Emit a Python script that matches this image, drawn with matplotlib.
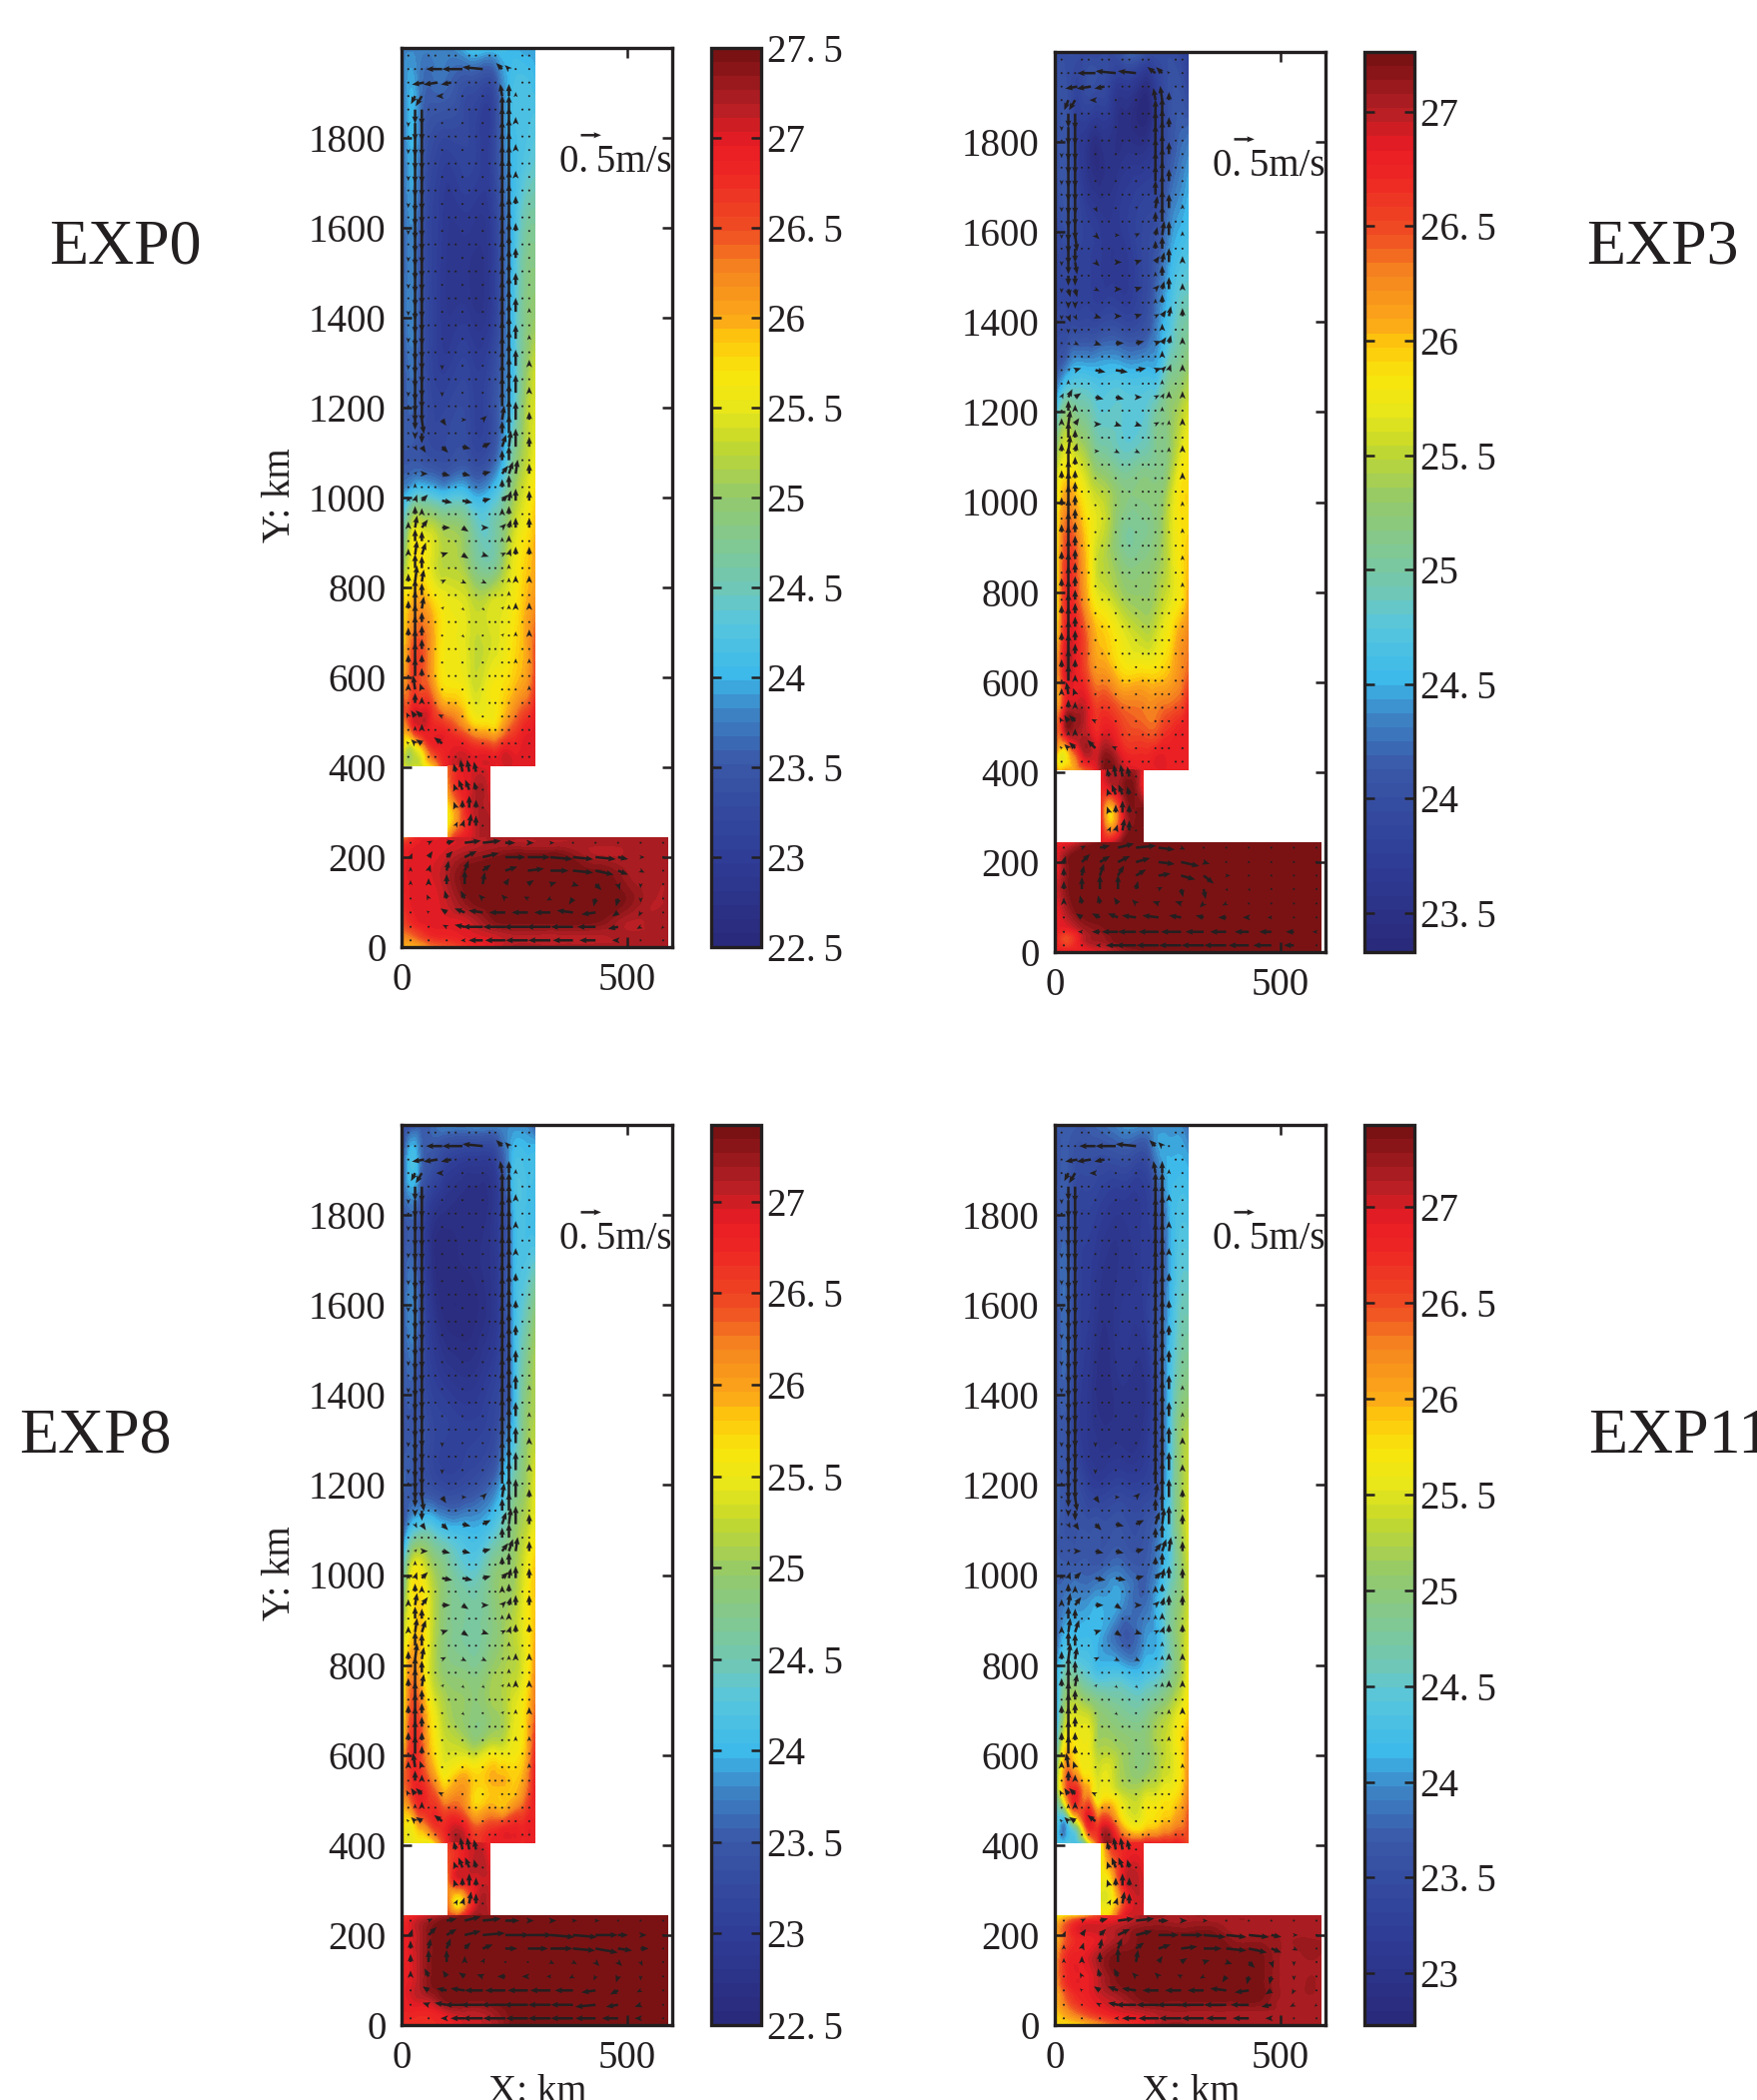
import numpy as np
import matplotlib
matplotlib.use('Agg')
import matplotlib.pyplot as plt
import matplotlib.tri as mtri
from matplotlib.colors import LinearSegmentedColormap

plt.rcParams['font.family'] = ['Liberation Serif', 'DejaVu Serif']
INK = '#231f20'
W, H = 1759, 2102

# temperature grids, deg C * 10, rows bottom to top
X_UP = [5, 25, 45, 70, 100, 150, 200, 225, 250, 275, 296]
Y_UP = [404, 440, 480, 540, 620, 700, 780, 860, 940, 1020, 1100, 1200, 1300, 1400, 1600, 1800, 1950, 2000]
X_ST = [103, 125, 150, 175, 195]
Y_ST = [243, 280, 320, 360, 404]
X_LO = [5, 30, 60, 100, 150, 200, 250, 300, 350, 400, 450, 500, 550, 590]
Y_LO = [3, 30, 60, 100, 150, 200, 230, 243]

T_UP_A = [[254,253,254,259,269,270,270,270,270,270,270],[255,253,258,267,269,269,267,269,269,270,270],
[260,265,269,269,268,262,259,262,266,269,270],[265,268,268,265,260,256,256,258,261,264,268],
[259,266,265,260,256,254,255,256,258,260,265],[258,263,264,260,256,254,254,255,257,260,264],
[257,259,260,257,255,253,253,254,256,259,261],[250,256,257,254,252,249,246,250,255,258,260],
[245,253,253,252,250,247,245,248,253,256,259],[238,240,241,240,239,239,240,244,250,254,257],
[235,235,234,233,233,233,234,239,247,252,255],[235,236,234,232,232,232,233,237,243,251,254],
[235,237,234,231,230,231,232,236,242,249,253],[236,238,234,231,229,229,230,235,242,248,250],
[236,238,234,231,229,229,230,235,241,246,247],[237,240,236,233,232,232,231,237,241,242,243],
[238,239,237,237,237,236,235,239,241,241,240],[238,238,238,238,238,241,241,241,240,239,239]]
T_ST_A = [[261,268,270,272,272],[256,262,269,272,272],[258,264,270,272,271],[262,268,270,272,270],[264,268,270,270,270]]
T_LO_A = [[260,260,263,265,268,270,272,272,272,272,272,272,272,272],[263,265,268,269,270,271,272,272,272,272,272,272,272,272],
[266,269,270,270,271,274,275,275,275,275,274,272,272,272],[268,270,270,271,274,275,275,275,275,275,275,274,272,272],
[269,270,270,272,275,275,275,275,275,275,275,273,272,272],[269,270,270,271,273,274,275,275,275,273,272,272,272,272],
[267,269,270,270,271,272,272,272,272,272,272,272,272,272],[262,268,269,270,271,272,272,272,272,272,272,272,272,272]]

T_UP_B = [[261,261,261,264,270,270,268,268,268,268,268],[260,258,264,270,270,268,267,268,268,268,268],
[264,268,270,270,268,266,265,265,267,268,268],[262,269,270,269,266,264,263,263,264,265,268],
[262,269,268,265,262,259,259,259,260,262,264],[259,268,268,264,260,257,255,256,258,261,263],
[258,267,266,261,257,254,253,254,256,258,261],[258,266,265,260,255,252,252,253,255,258,260],
[258,264,263,259,256,251,251,252,255,258,259],[257,261,260,257,255,252,252,252,254,258,259],
[254,257,256,254,251,249,250,251,252,256,258],[247,252,251,250,248,248,248,250,252,254,256],
[241,243,245,245,245,245,245,245,249,251,253],[239,239,239,239,239,239,240,243,246,249,250],
[239,240,239,238,237,237,239,240,243,245,246],[240,241,238,236,235,235,235,237,240,242,243],
[240,240,239,240,240,238,236,238,240,240,238],[240,240,240,239,239,241,241,240,240,239,238]]
T_ST_B = [[268,269,272,273,273],[267,261,268,272,272],[266,260,268,272,272],[267,268,271,272,268],[268,270,270,271,268]]
T_LO_B = [[268,268,268,269,271,272,273,273,273,273,273,273,273,273],[267,265,269,271,273,273,273,273,273,273,273,273,273,273],
[268,269,271,272,273,273,273,273,273,273,273,273,273,273],[268,271,273,273,273,273,273,273,273,273,273,273,273,273],
[269,272,273,273,273,273,273,273,273,273,273,273,273,273],[268,272,273,273,273,273,273,273,273,273,273,273,273,273],
[268,270,272,273,273,273,273,273,273,273,273,273,273,273],[268,268,270,272,272,273,273,273,273,273,273,273,273,273]]

T_UP_C = [[255,255,255,256,267,268,268,268,268,268,268],[256,256,260,265,268,266,266,267,268,268,268],
[258,262,267,267,264,260,260,259,262,265,268],[263,267,267,262,257,259,259,259,258,261,268],
[258,267,264,257,253,251,253,253,255,258,266],[256,265,262,255,251,249,250,251,254,257,263],
[255,262,258,252,249,248,250,251,252,255,261],[253,258,258,252,248,246,248,250,252,255,259],
[249,256,257,252,248,246,248,250,251,255,258],[244,254,254,250,247,243,247,249,250,254,258],
[236,242,244,243,241,240,242,245,249,252,255],[236,235,234,233,232,233,236,240,246,250,254],
[234,235,234,232,231,231,232,236,242,249,252],[235,235,233,231,230,229,231,233,240,248,251],
[235,238,233,228,226,226,228,232,240,244,248],[235,236,232,228,227,227,228,232,240,241,240],
[235,240,236,235,233,232,232,236,240,240,240],[234,234,235,236,238,238,238,238,238,238,235]]
T_ST_C = [[265,264,270,272,271],[262,256,264,271,270],[262,268,269,270,270],[264,268,270,271,269],[266,268,270,270,268]]
T_LO_C = [[267,267,267,268,270,271,274,274,274,274,274,274,274,274],[268,268,268,270,271,272,274,274,274,274,274,274,274,274],
[268,270,271,274,274,274,274,274,274,274,274,274,274,274],[268,270,273,274,274,274,274,274,274,274,274,274,274,274],
[268,270,273,274,274,274,274,274,274,274,274,274,274,274],[268,270,273,274,274,274,274,274,274,274,274,274,274,274],
[267,270,272,274,274,274,274,274,274,274,274,274,274,274],[266,268,270,272,274,274,274,274,274,274,274,274,274,274]]

T_UP_D = [[243,243,243,250,268,268,268,268,268,268,265],[243,240,248,265,268,260,258,259,261,263,265],
[245,253,265,267,260,256,256,257,258,260,264],[252,264,265,259,255,252,252,253,255,257,262],
[245,258,257,256,252,251,250,252,254,257,261],[241,252,254,253,250,248,248,250,252,255,258],
[241,247,247,245,243,243,243,244,247,251,256],[238,242,242,242,241,237,240,241,246,251,255],
[238,239,240,240,241,240,238,241,246,250,254],[237,237,237,237,237,238,237,239,243,249,254],
[237,236,236,236,236,236,236,238,243,250,255],[237,236,235,233,232,233,233,235,242,250,254],
[236,236,233,231,230,230,231,234,241,250,253],[236,237,233,231,229,230,230,234,241,248,250],
[236,238,234,232,230,231,232,235,240,245,246],[236,237,234,233,232,231,232,234,240,243,243],
[236,237,236,236,236,237,236,240,241,241,240],[237,237,237,237,238,240,240,240,240,240,238]]
T_ST_D = [[258,259,268,270,270],[255,256,264,270,270],[256,258,268,271,270],[256,262,268,270,269],[256,267,268,268,268]]
T_LO_D = [[258,258,259,262,266,269,272,272,272,272,272,272,272,272],[259,262,265,268,270,271,272,272,272,272,272,272,272,272],
[260,265,268,270,272,274,274,274,274,274,274,272,272,272],[262,268,269,271,274,274,274,274,274,274,274,272,272,272],
[262,268,269,272,274,274,274,274,274,274,274,272,272,272],[260,266,269,270,272,274,274,274,274,272,272,272,272,272],
[259,264,268,269,270,272,272,272,272,272,272,272,272,272],[257,258,260,266,268,272,272,272,272,272,272,272,272,272]]

# velocity, units of 0.05 m/s, rows top to bottom
QX_UP = [15, 30, 45, 90, 135, 180, 223, 238, 253, 283]
QY_UP = [1953,1893,1833,1773,1713,1653,1593,1533,1473,1413,1353,1293,1233,1173,1113,1053,993,933,873,813,753,693,633,573,513,453]
ZR = [0]*10
U_UP_ACD = [[0,0,-1,-8,-10,-10,-3,-2,0,0],[0,-2,-3,-3,-1,-1,-1,0,0,0],ZR,ZR,ZR,ZR,ZR,ZR,ZR,ZR,ZR,ZR,ZR,
[0,0,1,2,2,2,1,0,0,0],[0,1,2,3,4,4,2,1,0,0],[0,1,3,4,4,4,3,2,1,0],[0,1,3,5,5,4,3,1,0,0],[0,1,3,4,3,3,2,1,0,0],
[0,1,2,3,3,3,2,1,0,0],[0,1,1,2,2,2,1,0,0,0],[0,0,1,1,1,1,1,0,0,0],[0,0,0,1,1,1,1,0,0,0],[0,0,0,0,1,1,0,0,0,0],
[0,-1,-1,0,0,0,0,0,0,0],[-1,-2,-3,-2,0,0,0,0,0,0],[-1,-2,-3,-4,-1,0,0,0,0,0]]
V_UP_ACD = [[0,0,0,0,0,1,3,2,0,0],[-1,-4,-5,0,0,0,6,6,2,1],[-2,-9,-9,-1,0,0,8,8,3,1],[-2,-10,-10,-1,0,1,9,9,3,1],
[-2,-10,-10,-1,0,1,9,9,3,1],[-2,-11,-10,-1,0,1,9,10,4,1],[-2,-11,-10,-1,0,1,9,10,4,1],[-2,-11,-10,-1,0,1,9,11,5,1],
[-2,-11,-10,-1,0,1,9,11,6,1],[-2,-11,-10,-1,0,1,9,11,7,2],[-2,-11,-10,-1,0,1,9,11,7,2],[-2,-11,-9,-2,0,1,8,11,8,3],
[-2,-10,-8,-2,0,1,8,11,9,3],[-1,-5,-7,-3,0,2,7,10,9,4],[0,-2,-3,-3,-1,2,6,8,9,5],[1,1,0,-1,-1,1,4,6,7,5],
[2,3,3,-1,-1,1,3,5,6,5],[3,6,4,0,-2,0,2,4,5,5],[3,7,6,1,-2,-1,1,3,4,4],[4,8,6,1,-1,-1,1,2,3,3],[4,9,6,1,-1,-1,1,2,3,3],
[4,10,5,0,-1,0,1,1,2,3],[4,10,4,0,0,0,0,1,2,2],[3,7,3,0,0,0,0,0,1,2],[2,3,3,1,0,0,0,0,0,1],[1,2,2,3,0,0,0,0,0,0]]
U_UP_B = [[0,0,-1,-9,-10,-9,-4,-3,-1,0],[0,-2,-3,-3,-1,-1,-1,-1,0,0],ZR,ZR,ZR,[0,0,0,1,1,1,1,0,0,0],[0,0,1,2,2,2,1,1,0,0],
[0,0,1,2,3,3,2,1,0,0],[0,1,1,2,3,3,2,1,0,0],[0,1,1,3,3,3,2,2,1,0],[0,1,2,3,4,4,3,2,1,0],[0,1,3,5,6,5,3,2,1,0],
[1,2,3,4,4,3,2,1,0,0],[0,1,2,3,3,3,2,1,0,0],[0,1,1,2,2,2,1,0,0,0],ZR,ZR,ZR,ZR,ZR,ZR,ZR,ZR,
[0,-1,-1,0,0,0,0,0,0,0],[-1,-2,-3,-2,0,0,0,0,0,0],[-1,-2,-3,-4,-2,0,0,0,0,0]]
V_UP_B = [[0,0,0,0,1,1,3,3,1,0],[-1,-5,-5,0,0,0,6,7,4,1],[-2,-9,-9,-1,0,1,8,9,5,1],[-2,-10,-10,-1,0,1,8,10,6,1],
[-2,-10,-10,-1,0,1,8,10,6,1],[-2,-10,-9,-2,0,1,6,9,7,2],[-2,-9,-8,-2,0,1,4,7,7,2],[-2,-6,-6,-2,0,1,3,5,7,3],
[-2,-4,-4,-1,0,1,2,4,6,3],[-2,-3,-2,-1,0,1,1,3,5,4],[-1,-1,-1,-1,0,1,1,3,4,3],[0,1,1,-1,-1,1,1,2,3,3],
[2,4,2,-1,-1,0,1,2,3,3],[3,7,3,0,-1,-1,1,1,2,3],[4,8,4,0,-1,-1,0,1,2,3],[4,9,4,1,0,-1,0,1,1,3],[4,10,5,1,0,0,0,1,1,2],
[4,10,5,1,0,0,0,1,1,2],[4,10,5,1,0,0,0,1,1,2],[4,10,5,1,0,0,0,1,1,2],[4,10,5,0,0,0,0,0,1,1],[4,10,5,0,0,0,0,0,1,1],
[4,9,4,0,0,0,0,0,0,1],[3,6,3,0,0,0,0,0,0,0],[2,3,3,1,0,0,0,0,0,0],[1,2,3,4,1,0,0,0,0,0]]

# in-between rows of the boundary jets (northward speed only)
QX_JET = [30, 45, 223, 238]
QY_JET = [1863,1803,1743,1683,1623,1563,1503,1443,1383,1323,1263,1203,1143,1083,1023,963,903,843,783,723,663,603,543,483]
V_JET_ACD = [[-7,-8,7,7],[-10,-10,8,9],[-10,-10,9,9],[-11,-10,9,10],[-11,-10,9,10],[-11,-10,9,11],[-11,-10,9,11],[-11,-10,9,11],
[-11,-10,9,11],[-11,-9,8,11],[-11,-9,8,11],[-8,-8,8,11],[-3,-5,6,9],[-1,-1,5,7],[2,1,4,6],[4,3,3,4],[6,5,2,3],[7,6,1,2],
[8,6,1,2],[9,5,1,1],[10,5,0,1],[9,4,0,1],[5,3,0,0],[2,3,0,0]]
V_JET_B = [[-7,-8,7,8],[-10,-10,8,10],[-10,-10,8,10],[-10,-10,7,10],[-10,-9,5,8],[-8,-7,4,6],[-5,-5,2,5],[-3,-3,2,4],[-2,-2,1,3],
[0,0,1,3],[2,1,1,2],[5,3,1,2],[8,4,0,1],[9,4,0,1],[10,5,0,1],[10,5,0,1],[10,5,0,1],[10,5,0,1],[10,5,0,1],[10,5,0,1],
[10,5,0,0],[8,3,0,0],[4,3,0,0],[2,3,0,0]]
# second westward streak under the top of the gyre
QX_TOP = [50, 80, 110]
QY_TOP = [1923]
U_TOP = [[-6,-7,-5]]
V_TOP = [[-1,-1,-1]]

QX_ST = [120, 135, 150, 165, 180]
QY_ST = [390, 350, 310, 270]
U_ST = [[-1,-1,-1,-1,0],[-1,-2,-2,-1,0],[-1,0,0,0,0],[1,1,1,0,0]]
V_ST = [[4,6,6,5,1],[3,5,5,4,1],[3,4,6,4,1],[2,3,6,5,1]]

QX_LO = [20, 60, 100, 140, 180, 230, 280, 330, 380, 430, 480, 530, 580]
QY_LO = [232, 200, 170, 140, 108, 77, 45, 15]
ZL = [0]*13
U_LO_AD = [[1,2,4,8,9,5,3,2,1,1,0,0,0],[1,2,3,6,8,10,11,11,10,10,5,2,1],[0,1,1,2,4,6,8,9,10,9,5,2,0],[0,0,0,0,1,2,3,3,3,3,1,0,0],
[0,-1,-1,-2,-2,-2,-2,-2,-2,-1,-1,0,0],[0,-1,-3,-5,-7,-8,-8,-8,-8,-7,-3,-1,0],[0,-1,-2,-5,-10,-11,-12,-12,-11,-9,-5,-2,-1],[0,0,-1,-2,-7,-10,-11,-11,-10,-8,-3,-1,0]]
V_LO_AD = [[0,1,1,1,1,0,0,0,0,0,0,0,0],[2,3,3,3,2,0,0,-1,-1,-1,-1,0,0],[2,3,5,5,3,2,1,0,-1,-2,-2,-1,-1],[2,3,5,7,6,3,2,1,-1,-3,-3,-2,-1],
[1,2,4,4,2,2,1,-1,-3,-4,-4,-2,-1],[0,1,2,2,1,0,0,0,1,-1,-2,-2,-1],[0,0,1,1,0,0,0,0,0,0,-1,-1,-1],ZL]
U_LO_B = [[1,2,5,8,10,8,2,1,0,0,0,0,0],[1,4,5,6,7,8,9,3,1,1,0,0,0],[0,1,2,3,5,6,7,5,2,1,1,0,0],[0,0,0,0,1,2,1,1,1,1,1,1,0],
[0,-1,-1,-2,-2,-3,-3,-2,-2,-1,0,0,0],[0,-3,-4,-5,-7,-8,-6,-4,-4,-3,-2,-1,-1],[0,-2,-4,-8,-9,-10,-10,-9,-8,-7,-6,-4,-2],[0,0,-2,-6,-10,-11,-11,-11,-11,-10,-9,-5,-1]]
V_LO_B = [[0,1,1,2,1,-1,-1,0,0,0,0,0,0],[3,4,3,3,2,-1,-2,-1,0,0,0,0,0],[4,5,6,5,3,1,-2,-4,0,0,0,0,0],[4,6,7,7,4,1,-4,-5,-1,-1,0,0,0],
[3,4,4,3,2,1,1,-2,-1,0,0,0,0],[1,2,2,2,1,1,1,1,0,0,0,0,0],ZL,ZL]
U_LO_C = [[1,2,5,8,9,7,3,3,2,2,1,1,0],[1,4,5,8,11,12,12,12,12,11,5,3,1],[0,1,2,3,5,6,10,11,11,11,7,4,1],[0,0,0,0,1,1,1,2,2,2,2,1,0],
[0,-2,-2,-3,-3,-4,-3,-2,-2,-1,-1,0,0],[0,-3,-5,-7,-9,-10,-10,-10,-9,-7,-4,-2,0],[0,-3,-6,-10,-11,-12,-12,-11,-11,-10,-6,-3,-1],[0,-1,-3,-7,-10,-11,-11,-11,-11,-10,-8,-3,0]]
V_LO_C = [[0,1,1,2,1,0,0,0,0,0,0,0,0],[3,4,3,2,1,0,0,-1,-1,0,0,0,0],[4,5,5,3,2,0,0,0,-1,-2,-1,0,0],[4,6,6,3,2,0,0,-1,-1,-2,-2,-2,-1],
[3,4,3,2,1,0,0,0,-1,-2,-3,-2,-1],[1,2,1,1,0,0,0,0,0,-1,-2,-1,-1],[0,1,1,0,0,0,0,0,0,-1,-1,-1,0],ZL]

# calm cells between the jets, drawn as dots
QX_CALM = [15, 60, 75, 105, 120, 150, 165, 195, 208, 268, 283]
QY_CALM = [1983,1923,1863,1803,1743,1683,1623,1563,1503,1443,1383,1323,1263,1203,1143,1083,1023,963,903,843,783,723,663,603,543,483,423]

# colour range and colorbar ticks of each panel
VMIN = [22.5, 23.33, 22.5, 22.73]
VMAX = [27.5, 27.26, 27.42, 27.43]
CB_TICKS = [[22.5,23,23.5,24,24.5,25,25.5,26,26.5,27,27.5],
            [23.5,24,24.5,25,25.5,26,26.5,27],
            [22.5,23,23.5,24,24.5,25,25.5,26,26.5,27],
            [23,23.5,24,24.5,25,25.5,26,26.5,27]]
NAMES = ['EXP0', 'EXP3', 'EXP8', 'EXP11']
Y_TICKS = [0,200,400,600,800,1000,1200,1400,1600,1800]

# pixel boxes: left, right, top, bottom
BOXES = [(402,673,48,948), (1056,1327,52,953), (402,673,1126,2027), (1056,1327,1126,2027)]
CB_X = [(712,762), (1366,1416), (712,762), (1366,1416)]
NAME_POS = [(125,248,'center'), (1664,248,'center'), (95,1439,'center'), (1590,1439,'left')]

stops = [(0.00,'#2a2a7c'),(0.10,'#2f3e98'),(0.20,'#3a57a7'),(0.26,'#3d86c6'),(0.30,'#3cb9ea'),(0.36,'#58c6dc'),
         (0.40,'#70c7b4'),(0.50,'#93c96c'),(0.56,'#c3d82e'),(0.60,'#e8e61a'),(0.64,'#f9e50c'),(0.68,'#fdc60d'),
         (0.70,'#fbaa18'),(0.76,'#f58220'),(0.80,'#ef4f23'),(0.86,'#ee2a24'),(0.90,'#e81c24'),(0.94,'#b51f24'),(1.00,'#7a1214')]
cmap = LinearSegmentedColormap.from_list('cmyk_jet', stops, N=64)


def fill_region(ax, xs, ys, temp, levels, vmin, vmax):
    xx, yy = np.meshgrid(xs, ys)
    tri = mtri.Triangulation(xx.ravel(), yy.ravel())
    zz = np.array(temp, dtype=float).ravel() / 10
    tri2, z2 = mtri.UniformTriRefiner(tri).refine_field(zz, subdiv=3)
    return ax.tricontourf(tri2, np.clip(z2, vmin + 1e-3, vmax - 1e-3), levels=levels, cmap=cmap)


def draw_arrows(ax, xs, ys, u, v):
    xx, yy = np.meshgrid(xs, ys)
    return ax.quiver(xx, yy, u, v, angles='xy', scale_units='xy', scale=10/45, units='dots', width=2.5,
                     headwidth=2.4, headlength=3.0, headaxislength=2.7, minshaft=0.8, minlength=0.9, color=INK, zorder=3)


fig = plt.figure(figsize=(W/100, H/100), dpi=100)

T_UP = [T_UP_A, T_UP_B, T_UP_C, T_UP_D]
T_ST = [T_ST_A, T_ST_B, T_ST_C, T_ST_D]
T_LO = [T_LO_A, T_LO_B, T_LO_C, T_LO_D]
VEL_UP = [(U_UP_ACD, V_UP_ACD), (U_UP_B, V_UP_B), (U_UP_ACD, V_UP_ACD), (U_UP_ACD, V_UP_ACD)]
VEL_LO = [(U_LO_AD, V_LO_AD), (U_LO_B, V_LO_B), (U_LO_C, V_LO_C), (U_LO_AD, V_LO_AD)]
V_JET = [V_JET_ACD, V_JET_B, V_JET_ACD, V_JET_ACD]
U_JET = np.zeros((len(QY_JET), len(QX_JET)))
CALM = np.zeros((len(QY_CALM), len(QX_CALM)))

for i in range(4):
    l, r, t, b = BOXES[i]
    ax = fig.add_axes([l/W, 1-b/H, (r-l)/W, (b-t)/H])
    levels = np.linspace(VMIN[i], VMAX[i], 65)
    cf = fill_region(ax, X_UP, Y_UP, T_UP[i], levels, VMIN[i], VMAX[i])
    fill_region(ax, X_ST, Y_ST, T_ST[i], levels, VMIN[i], VMAX[i])
    fill_region(ax, X_LO, Y_LO, T_LO[i], levels, VMIN[i], VMAX[i])

    q = draw_arrows(ax, QX_UP, QY_UP, *VEL_UP[i])
    draw_arrows(ax, QX_JET, QY_JET, U_JET, V_JET[i])
    draw_arrows(ax, QX_TOP, QY_TOP, U_TOP, V_TOP)
    draw_arrows(ax, QX_CALM, QY_CALM, CALM, CALM)
    draw_arrows(ax, QX_ST, QY_ST, U_ST, V_ST)
    draw_arrows(ax, QX_LO, QY_LO, *VEL_LO[i])
    ax.quiverkey(q, 0.70, 0.903, 10, ' ', coordinates='axes', labelpos='N')
    ax.text(0.584, 0.873, '0.\u20095m/s', transform=ax.transAxes, fontsize=28, color=INK, va='center', ha='left')

    ax.set_xlim(0, 600)
    ax.set_ylim(0, 2000)
    ax.set_xticks([0, 500])
    ax.set_yticks(Y_TICKS)
    ax.tick_params(direction='in', length=7, width=1.8, top=True, right=True, labelsize=28, colors=INK, pad=11)
    for s in ax.spines.values():
        s.set_linewidth(2.4)
        s.set_color(INK)

    cl, cr = CB_X[i]
    cax = fig.add_axes([cl/W, 1-b/H, (cr-cl)/W, (b-t)/H])
    cb = fig.colorbar(cf, cax=cax)
    cb.set_ticks(CB_TICKS[i])
    cb.set_ticklabels([f'{v:g}'.replace('.', '.\u2009') for v in CB_TICKS[i]])
    cax.tick_params(direction='in', length=7, width=1.8, left=True, right=True, labelsize=28, colors=INK, pad=4)
    cb.outline.set_linewidth(2.4)
    cb.outline.set_edgecolor(INK)

    nx, ny, nha = NAME_POS[i]
    fig.text(nx/W, 1-ny/H, NAMES[i], fontsize=46, color=INK, ha=nha, va='center')

fig.text(280/W, 1-496/H, 'Y: km', rotation=90, fontsize=28, color=INK, ha='center', va='center')
fig.text(280/W, 1-1575/H, 'Y: km', rotation=90, fontsize=28, color=INK, ha='center', va='center')
fig.text(538/W, 1-2094/H, 'X: km', fontsize=28, color=INK, ha='center', va='center')
fig.text(1192/W, 1-2094/H, 'X: km', fontsize=28, color=INK, ha='center', va='center')

fig.savefig('out.png', dpi=100)
